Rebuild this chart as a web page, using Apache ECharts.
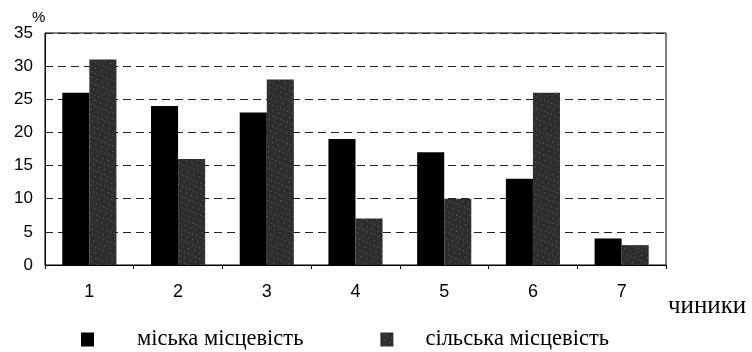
<!DOCTYPE html>
<html><head><meta charset="utf-8">
<script src="https://cdn.jsdelivr.net/npm/echarts@6/dist/echarts.min.js"></script>
<style>html,body{margin:0;padding:0;background:#fff}#c{width:752px;height:352px}</style>
</head><body><div id="c"></div>
<script>
const categories = ['1','2','3','4','5','6','7'];
const urban = [26, 24, 23, 19, 17, 13, 4];
const rural = [31, 16, 28, 7, 10, 26, 3];
const seriesNames = ['міська місцевість', 'сільська місцевість'];
const xName = 'чиники';
const yName = '%';

const chart = echarts.init(document.getElementById('c'));
chart.setOption({
  animation: false,
  aria: {enabled: true, decal: {show: true}},
  grid: {left: 45, right: 86, top: 33, bottom: 87, outerBoundsMode: 'none', containLabel: false,
    show: true, borderColor: '#000', borderWidth: 1},
  legend: {
    left: 81, top: 328, itemWidth: 13, itemHeight: 14, itemGap: 77, icon: 'rect', padding: 0,
    textStyle: {fontFamily: 'Liberation Serif', fontSize: 22.5, color: '#000', padding: [0,0,0,38]},
    data: [
      {name: seriesNames[0]},
      {name: seriesNames[1], itemStyle: {color: '#2e2e2e'}, textStyle: {padding: [0,0,0,27]}}
    ]
  },
  graphic: [
    {type: 'text', style: {x: 668, y: 306, verticalAlign: 'middle', text: xName, fontFamily: 'Liberation Serif', fontSize: 25, fill: '#000'}},
    {type: 'text', left: 32, top: 10, style: {text: yName, fontFamily: 'Liberation Sans', fontSize: 15, fill: '#000'}}
  ],
  xAxis: {
    type: 'category', data: categories,
    axisLine: {lineStyle: {color: '#000'}},
    axisTick: {show: true, length: 4, lineStyle: {color: '#000'}},
    axisLabel: {fontFamily: 'Liberation Sans', fontSize: 18, color: '#000', margin: 18}
  },
  yAxis: {
    type: 'value', min: 0, max: 35, interval: 5,
    axisLine: {show: true, lineStyle: {color: '#000'}},
    axisTick: {show: false},
    axisLabel: {fontFamily: 'Liberation Sans', fontSize: 17, color: '#000', margin: 12},
    splitLine: {lineStyle: {color: '#222', type: [8, 5], width: 1}}
  },
  series: [
    {name: seriesNames[0], type: 'bar', data: urban, barGap: '0%', barCategoryGap: '39%',
     itemStyle: {color: '#000', decal: {symbol: 'none'}}},
    {name: seriesNames[1], type: 'bar', data: rural,
     itemStyle: {color: '#2e2e2e', decal: {symbol: 'rect', symbolSize: 1, color: 'rgba(150,150,150,0.55)', dashArrayX: [[1,5],[1,3]], dashArrayY: [1,4], rotation: 0.4}}}
  ]
});
</script></body></html>
